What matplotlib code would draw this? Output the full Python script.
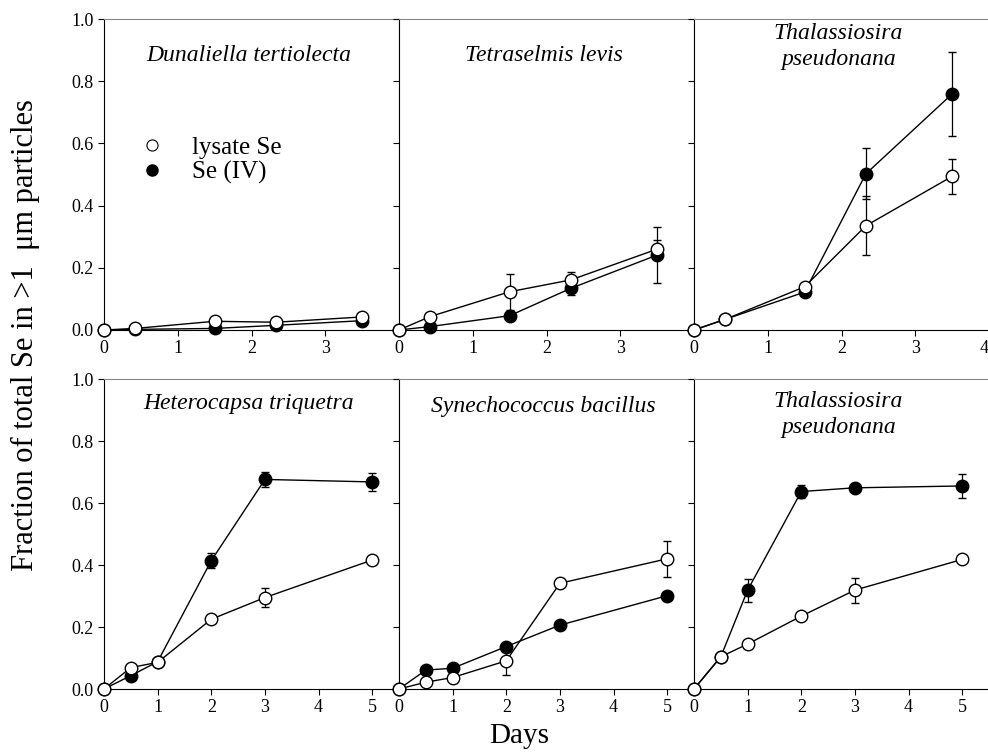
import matplotlib
matplotlib.use("Agg")
import matplotlib.pyplot as plt
from matplotlib.lines import Line2D

plt.rcParams["font.family"] = ["Liberation Serif", "DejaVu Serif"]

# top row: short experiments (days 0-3.5)
days_top = [0, 0.42, 1.5, 2.33, 3.5]
# bottom row: 5-day experiments
days_bot = [0, 0.5, 1, 2, 3, 5]

titles = [
    "Dunaliella tertiolecta", "Tetraselmis levis", "Thalassiosira\npseudonana",
    "Heterocapsa triquetra", "Synechococcus bacillus", "Thalassiosira\npseudonana",
]

lysate = [
    [0, 0.005, 0.028, 0.025, 0.042],
    [0, 0.043, 0.123, 0.161, 0.26],
    [0, 0.034, 0.139, 0.335, 0.494],
    [0, 0.069, 0.086, 0.225, 0.295, 0.416],
    [0, 0.022, 0.037, 0.091, 0.341, 0.42],
    [0, 0.104, 0.145, 0.235, 0.319, 0.418],
]
lysate_err = [
    [0, 0, 0, 0, 0],
    [0, 0, 0.058, 0.027, 0.03],
    [0, 0, 0, 0.095, 0.057],
    [0, 0, 0, 0, 0.032, 0],
    [0, 0, 0, 0.046, 0, 0.058],
    [0, 0, 0, 0, 0.04, 0],
]
se4 = [
    [0, 0.002, 0.005, 0.015, 0.03],
    [0, 0.011, 0.046, 0.134, 0.241],
    [0, 0.034, 0.122, 0.502, 0.759],
    [0, 0.043, 0.088, 0.414, 0.676, 0.668],
    [0, 0.061, 0.067, 0.137, 0.206, 0.301],
    [0, 0.104, 0.319, 0.637, 0.649, 0.655],
]
se4_err = [
    [0, 0, 0, 0, 0],
    [0, 0, 0, 0.02, 0.09],
    [0, 0, 0, 0.082, 0.135],
    [0, 0, 0, 0.025, 0.025, 0.03],
    [0, 0, 0, 0, 0, 0],
    [0, 0, 0.037, 0.022, 0, 0.04],
]

title_y = [0.884, 0.884, 0.912, 0.92, 0.91, 0.885]

fig = plt.figure(figsize=(9.88, 7.56), dpi=100)

W, H = 988, 756
left, pw = 104, 295
rows = [(19, 330), (379, 689)]

axes = []
for i in range(6):
    r, c = divmod(i, 3)
    top, bot = rows[r]
    ax = fig.add_axes([(left + c * pw) / W, 1 - bot / H, pw / W, (bot - top) / H])
    axes.append(ax)


def draw_series(ax, x, y, err, face, z):
    cont = ax.errorbar(x, y, yerr=err, fmt="-o", color="black", mfc=face,
                       mec="black", ms=9, lw=1, elinewidth=0.9, capsize=3, zorder=z)
    for art in cont.get_children():
        art.set_clip_on(False)


for i, ax in enumerate(axes):
    x = days_top if i < 3 else days_bot
    draw_series(ax, x, se4[i], se4_err[i], "black", 3)
    draw_series(ax, x, lysate[i], lysate_err[i], "white", 4)
    ax.set_ylim(0, 1.0)
    if i < 3:
        ax.set_xlim(0, 4)
        ax.set_xticks([0, 1, 2, 3, 4] if i == 2 else [0, 1, 2, 3])
    else:
        ax.set_xlim(0, 5.5)
        ax.set_xticks([0, 1, 2, 3, 4, 5])
    ax.set_yticks([0, 0.2, 0.4, 0.6, 0.8, 1.0])
    if i % 3 == 0:
        ax.set_yticklabels(["0.0", "0.2", "0.4", "0.6", "0.8", "1.0"])
    else:
        ax.set_yticklabels([])
    ax.tick_params(labelsize=13, length=4, width=0.8, direction="out")
    for s in ax.spines.values():
        s.set_linewidth(0.8)
    for s in ("top", "right"):
        ax.spines[s].set_color("#888888")
    ax.text(0.49, title_y[i], titles[i], transform=ax.transAxes, ha="center",
            va="center", fontsize=17, style="italic", linespacing=1.35)

# keep the last "4" of the top-right panel inside the picture
axes[2].get_xticklabels()[-1].set_horizontalalignment("right")

handles = [
    Line2D([], [], ls="none", marker="o", ms=8, mfc="white", mec="black", mew=0.8),
    Line2D([], [], ls="none", marker="o", ms=8, mfc="black", mec="black"),
]
axes[0].legend(handles, ["lysate Se", "Se (IV)"], loc="upper left",
               bbox_to_anchor=(0.052, 0.696), frameon=False, fontsize=18,
               handlelength=0.8, handletextpad=1.2, labelspacing=0.1,
               borderpad=0.4)

fig.text(25 / W, 1 - 335 / H, "Fraction of total Se in >1  μm particles",
         rotation=90, ha="center", va="center", fontsize=22)
fig.text(519 / W, 1 - 736 / H, "Days", ha="center", va="center", fontsize=21)

fig.savefig("out.png", dpi=100)
